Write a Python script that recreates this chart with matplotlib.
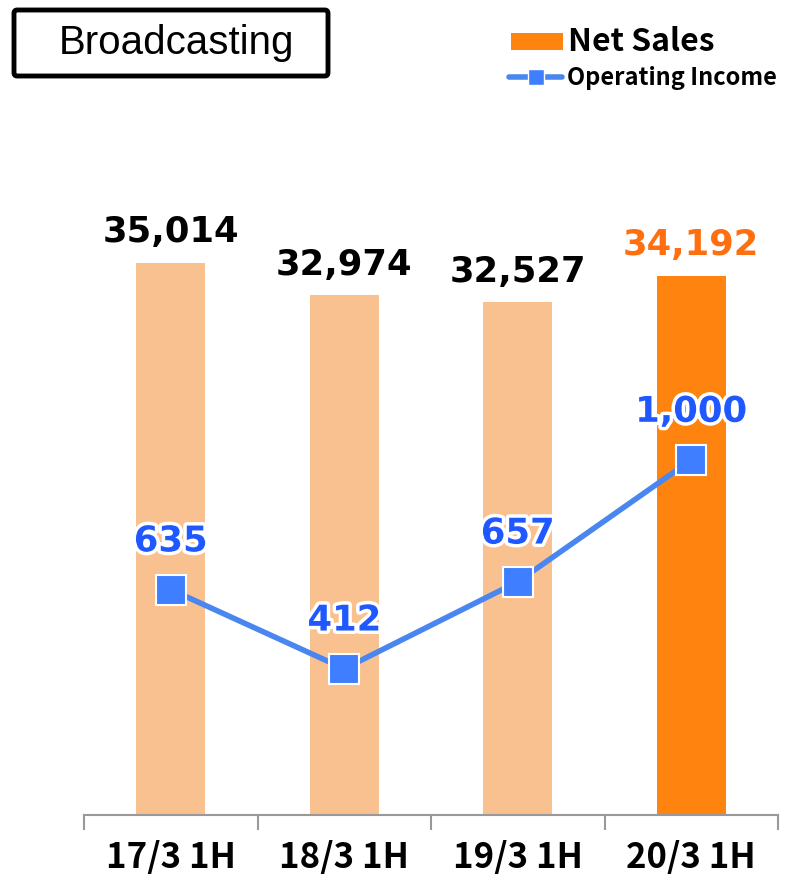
import matplotlib.pyplot as plt
import matplotlib.patheffects as pe
from matplotlib.patches import FancyBboxPatch, Rectangle
from matplotlib.lines import Line2D

categories = ["17/3 1H", "18/3 1H", "19/3 1H", "20/3 1H"]
net_sales = [35014, 32974, 32527, 34192]
op_income = [635, 412, 657, 1000]

light_orange = "#f9c190"
orange = "#ff840f"
label_orange = "#ff6f10"
line_blue = "#4a86f0"
marker_blue = "#3f7fff"
label_blue = "#1f58ff"
jp = ["Noto Sans CJK JP", "DejaVu Sans"]
num_font = "DejaVu Sans"

W, H = 788, 874
fig = plt.figure(figsize=(W / 100, H / 100), dpi=100)
ax = fig.add_axes([84 / W, 59 / H, (778 - 84) / W, 710 / H])
ax2 = ax.twinx()

x = list(range(len(categories)))
colors = [light_orange] * 3 + [orange]
ax.bar(x, net_sales, width=0.40, color=colors, zorder=1)
ax.set_xlim(-0.5, 3.5)
ax.set_ylim(0, 45000)
ax.set_yticks([])
ax.set_xticks([i - 0.5 for i in range(5)], minor=False)
ax.set_xticklabels([])
ax.set_xticks(x, minor=True)
ax.set_xticklabels(categories, minor=True, fontsize=25, fontweight="bold",
                   family=jp)
ax.tick_params(axis="x", which="major", length=11, width=1.5, color="#999999",
               direction="out")
ax.tick_params(axis="x", which="minor", length=0, pad=18)
for side in ["top", "left", "right"]:
    ax.spines[side].set_visible(False)
    ax2.spines[side].set_visible(False)
ax.spines["bottom"].set_color("#999999")
ax.spines["bottom"].set_linewidth(1.5)
ax2.spines["bottom"].set_visible(False)

for i, v in enumerate(net_sales):
    c = label_orange if i == 3 else "black"
    ax.annotate(f"{v:,}", (i, v), xytext=(0, 14.5), textcoords="offset points",
                ha="center", va="baseline", fontsize=25.5, fontweight="bold",
                color=c, family=num_font)

ax2.plot(x, op_income, color=line_blue, linewidth=4, marker="s",
         markersize=21, markerfacecolor=marker_blue, markeredgecolor="white",
         markeredgewidth=1.5, zorder=3)
ax2.set_ylim(0, 2000)
ax2.set_yticks([])
glow = [pe.withStroke(linewidth=5, foreground="white")]
for i, v in enumerate(op_income):
    ax2.annotate(f"{v:,}", (i, v), xytext=(0, 27.5), textcoords="offset points",
                 ha="center", va="baseline", fontsize=25.5, fontweight="bold",
                 color=label_blue, family=num_font, path_effects=glow)

# title box
fig.add_artist(FancyBboxPatch((14 / W, 1 - 76 / H), 314 / W, 66 / H,
                              boxstyle="round,pad=0,rounding_size=0.004",
                              transform=fig.transFigure, facecolor="white",
                              edgecolor="black", linewidth=3.5))
fig.text(176 / W, 1 - 43 / H, "Broadcasting", ha="center", va="center",
         fontsize=29, family="Liberation Sans")

# legend
fig.add_artist(Rectangle((511 / W, 1 - 50 / H), 52 / W, 17 / H,
                         transform=fig.transFigure, facecolor=orange,
                         edgecolor="none"))
fig.text(568 / W, 1 - 42 / H, "Net Sales", ha="left", va="center",
         fontsize=23, fontweight="bold", family=jp)
fig.add_artist(Line2D([509 / W, 562 / W], [1 - 77 / H, 1 - 77 / H],
                      transform=fig.transFigure, color=line_blue, linewidth=4,
                      solid_capstyle="round"))
fig.add_artist(Line2D([536 / W], [1 - 77 / H], transform=fig.transFigure,
                      marker="s", markersize=12, markerfacecolor=marker_blue,
                      markeredgecolor="white", markeredgewidth=1,
                      linestyle="none"))
fig.text(567 / W, 1 - 78 / H, "Operating Income", ha="left", va="center",
         fontsize=17, fontweight="bold", family=jp)

fig.savefig("out.png", dpi=100)
